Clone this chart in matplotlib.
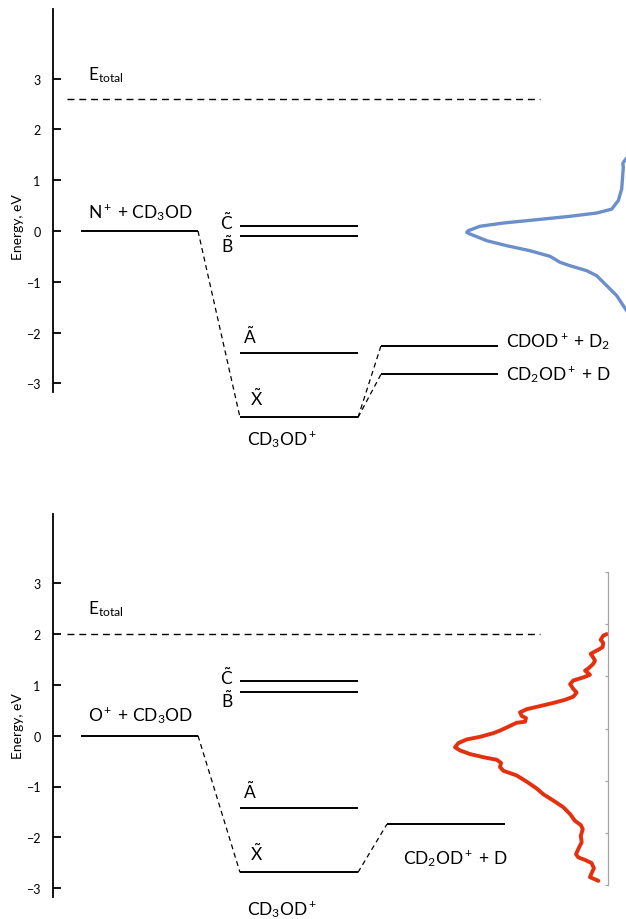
import matplotlib.pyplot as plt

plt.rcParams['font.family'] = ['Lato', 'DejaVu Sans']
plt.rcParams['mathtext.fontset'] = 'custom'
plt.rcParams['mathtext.rm'] = 'Lato'
plt.rcParams['mathtext.it'] = 'Lato:italic'
plt.rcParams['mathtext.bf'] = 'Lato:bold'

# energies in eV relative to ion + CD3OD
state_names = [r'$\tilde{\mathrm{X}}$', r'$\tilde{\mathrm{A}}$',
               r'$\tilde{\mathrm{B}}$', r'$\tilde{\mathrm{C}}$']
n_states = [-3.67, -2.40, -0.10, 0.10]
o_states = [-2.69, -1.43, 0.87, 1.07]
n_etotal = 2.6
o_etotal = 2.0
n_products = [-2.26, -2.82]
n_product_names = [r'CDOD$^+$ + D$_2$', r'CD$_2$OD$^+$ + D']
o_products = [-1.74]
o_product_names = [r'CD$_2$OD$^+$ + D']

# N+ product spectrum: energy (eV) vs normalised intensity
n_spec_e = [1.46, 1.38, 1.33, 1.25, 0.83, 0.60, 0.43, 0.354, 0.289, 0.222, 0.157,
            0.093, 0.006, -0.026, -0.059, -0.191, -0.289, -0.388, -0.498, -0.616,
            -0.683, -0.781, -0.880, -1.077, -1.274, -1.470, -1.569, -1.65]
n_spec_i = [-0.01, 0.01, 0.02, 0.017, 0.027, 0.048, 0.090, 0.184, 0.352, 0.562, 0.770,
            0.917, 0.990, 1.0, 0.979, 0.874, 0.749, 0.603, 0.477, 0.414,
            0.352, 0.247, 0.184, 0.121, 0.058, 0.017, -0.004, -0.03]

# O+ product spectrum on its own vertical scale (0-6)
o_spec_y = [4.81, 4.78, 4.70, 4.64, 4.56, 4.51, 4.46, 4.43, 4.36, 4.30, 4.24, 4.15, 4.11,
            4.06, 4.03, 3.98, 3.92, 3.85, 3.76, 3.69, 3.61, 3.55, 3.49, 3.43, 3.37, 3.31,
            3.24, 3.20, 3.13, 3.11, 3.02, 2.96, 2.91, 2.84, 2.79, 2.72, 2.64, 2.58, 2.51,
            2.45, 2.40, 2.34, 2.26, 2.19, 2.10, 1.98, 1.85, 1.74, 1.62, 1.49, 1.36, 1.23,
            1.15, 1.07, 0.94, 0.82, 0.69, 0.59, 0.53, 0.48, 0.42, 0.32, 0.23, 0.15, 0.08]
o_spec_i = [0.008, 0.031, 0.048, 0.031, 0.035, 0.063, 0.096, 0.113, 0.096, 0.085, 0.096,
            0.129, 0.150, 0.129, 0.118, 0.161, 0.227, 0.248, 0.227, 0.205, 0.227, 0.281,
            0.358, 0.444, 0.531, 0.575, 0.564, 0.536, 0.542, 0.597, 0.662, 0.706, 0.750,
            0.837, 0.924, 0.978, 1.0, 0.967, 0.902, 0.815, 0.727, 0.699, 0.706, 0.684,
            0.597, 0.531, 0.466, 0.423, 0.358, 0.292, 0.248, 0.216, 0.178, 0.165, 0.178,
            0.172, 0.194, 0.209, 0.194, 0.150, 0.107, 0.092, 0.107, 0.118, 0.063]

W, H = 626, 920
PX_EV = 50.8       # pixels per eV
SPINE_X = 53       # energy axis column
PANEL_H = 460

fig = plt.figure(figsize=(W / 100, H / 100), dpi=100)


def panel(top, zero):
    ax = fig.add_axes([SPINE_X / W, 1 - (top + PANEL_H) / H, 1 - SPINE_X / W, PANEL_H / H])
    ax.set_xlim(SPINE_X, W)
    ax.set_ylim((zero - top - PANEL_H) / PX_EV, (zero - top) / PX_EV)
    for s in ['top', 'right', 'bottom']:
        ax.spines[s].set_visible(False)
    ax.spines['left'].set_bounds(-3.17, 4.37)
    ax.spines['left'].set_linewidth(1.3)
    ax.set_xticks([])
    ax.set_yticks([-3, -2, -1, 0, 1, 2, 3])
    ax.tick_params(axis='y', direction='in', length=5.5, width=1.3, pad=9, labelsize=9)
    ax.patch.set_visible(False)
    return ax


def level(ax, x0, x1, e):
    ax.plot([x0, x1], [e, e], color='black', lw=1.4, solid_capstyle='butt')


def link(ax, x0, e0, x1, e1):
    ax.plot([x0, x1], [e0, e1], color='black', lw=0.9, ls=(0, (4, 3)))


def diagram(ax, entrance, states, etotal, products, names, prod_x0, prod_x1,
            etot_dy, ent_dy, state_dy, cation_dy, name_dx, name_dy, ylab_e):
    fs = 12.5
    ax.plot([67, 540], [etotal, etotal], color='black', lw=1.0, ls=(0, (5, 3.5)))
    ax.text(88, etotal + etot_dy, r'E$_{\mathrm{total}}$', fontsize=fs, va='baseline')

    level(ax, 81, 198, 0.0)
    ax.text(88, ent_dy, entrance, fontsize=fs, va='baseline')

    for e in states:
        level(ax, 240, 358, e)
    x_e = states[0]
    link(ax, 198, 0.0, 240, x_e)

    # state labels: X, A above the left end; B, C to the left of the lines
    ax.text(250, x_e + state_dy[0], state_names[0], fontsize=fs, va='baseline')
    ax.text(243, states[1] + state_dy[1], state_names[1], fontsize=fs, va='baseline')
    ax.text(233, states[2] + state_dy[2], state_names[2], fontsize=fs, va='baseline', ha='right')
    ax.text(233, states[3] + state_dy[3], state_names[3], fontsize=fs, va='baseline', ha='right')
    ax.text(247, x_e + cation_dy, r'CD$_3$OD$^+$', fontsize=fs, va='baseline')

    for e, name, dy in zip(products, names, name_dy):
        level(ax, prod_x0, prod_x1, e)
        link(ax, 358, x_e, prod_x0, e)
        ax.text(prod_x1 + name_dx, e + dy, name, fontsize=fs, va='baseline')

    ax.text(18, ylab_e, 'Energy, eV', rotation=90, ha='center', va='center', fontsize=10)


# --- N+ + CD3OD ---
ax1 = panel(0, 232)
diagram(ax1, r'N$^+$ + CD$_3$OD', n_states, n_etotal, n_products, n_product_names,
        381, 498, 0.39, 0.275, [0.24, 0.20, -0.32, -0.07], -0.52, 8, [0.0, -0.09], 0.1)

spec1 = ax1.twiny()
spec1.set_xlim((W - SPINE_X) / 159.3, 0)
spec1.plot(n_spec_i, n_spec_e, color='#6b8fcb', lw=2.4, solid_capstyle='round',
           solid_joinstyle='round')
spec1.axis('off')

# --- O+ + CD3OD ---
ax2 = panel(460, 736.7)
diagram(ax2, r'O$^+$ + CD$_3$OD', o_states, o_etotal, o_products, o_product_names,
        387, 505, 0.40, 0.295, [0.25, 0.20, -0.31, -0.05], -0.82, -102, [-0.77], 0.2)

spec2 = fig.add_axes([440 / W, 1 - 886 / H, (608 - 440) / W, (886 - 573) / H])
spec2.set_xlim((608 - 440) / 153, 0)
spec2.set_ylim(0, 6)
spec2.plot(o_spec_i, o_spec_y, color='#e5300f', lw=2.8, solid_capstyle='round',
           solid_joinstyle='round')
spec2.patch.set_visible(False)
for s in ['top', 'left', 'bottom']:
    spec2.spines[s].set_visible(False)
spec2.spines['right'].set_color('#a6a6a6')
spec2.spines['right'].set_linewidth(0.9)
spec2.set_xticks([])
spec2.yaxis.tick_right()
spec2.set_yticks(range(7))
spec2.tick_params(axis='y', direction='in', length=2.5, width=0.9, color='#a6a6a6',
                  labelright=False)

fig.savefig('out.png', dpi=100)
